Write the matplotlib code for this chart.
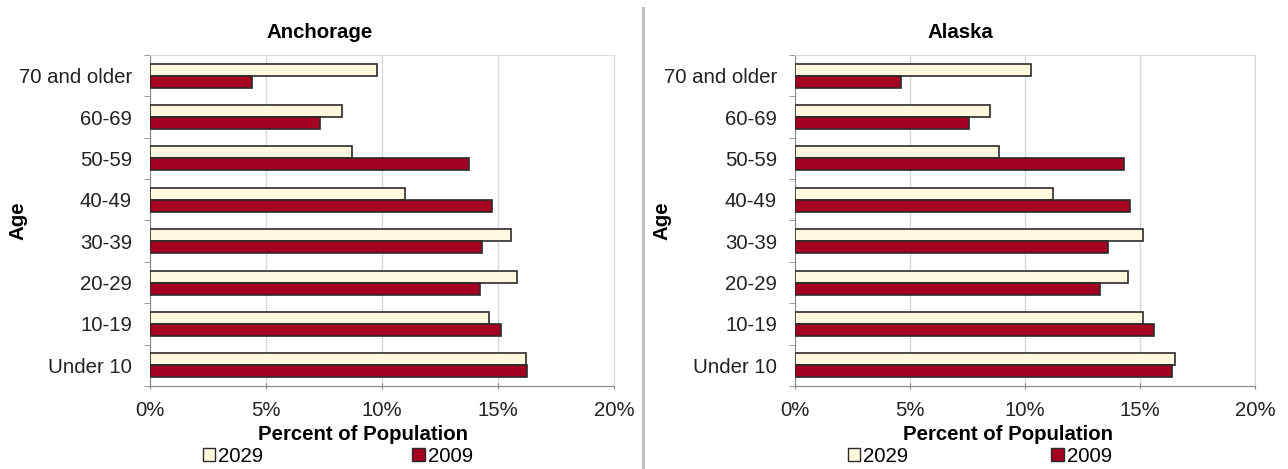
import numpy as np
import matplotlib
matplotlib.use('Agg')
import matplotlib.pyplot as plt
from matplotlib.lines import Line2D
from matplotlib.patches import Patch

plt.rcParams['font.family'] = ['Liberation Sans', 'DejaVu Sans']

# tranches d'age, du bas vers le haut
ages = ['Under 10', '10-19', '20-29', '30-39', '40-49', '50-59', '60-69', '70 and older']

anch_2029 = [16.19, 14.61, 15.84, 15.58, 11.0, 8.7, 8.26, 9.78]
anch_2009 = [16.23, 15.14, 14.23, 14.29, 14.72, 13.77, 7.32, 4.38]

ak_2029 = [16.52, 15.14, 14.47, 15.14, 11.23, 8.86, 8.49, 10.25]
ak_2009 = [16.4, 15.62, 13.26, 13.6, 14.57, 14.32, 7.58, 4.6]

x_ticks = [0, 5, 10, 15, 20]
x_labels = ['0%', '5%', '10%', '15%', '20%']

c_2029 = '#FFF7DE'
c_2009 = '#A50021'
c_edge = '#2b2b2b'

W, H = 1288, 469
fig = plt.figure(figsize=(W / 100, H / 100), dpi=100)

fs = 14.7


def panneau(ax, v2029, v2009, titre, tx, x0, larg, xl_x, age_x, leg_x, colsp):
    y = np.arange(len(ages))
    h = 0.29
    ax.barh(y + h / 2, v2029, height=h, color=c_2029, edgecolor=c_edge, linewidth=1.2, zorder=3)
    ax.barh(y - h / 2, v2009, height=h, color=c_2009, edgecolor=c_edge, linewidth=1.2, zorder=3)
    ax.set_xlim(0, 20)
    ax.set_ylim(-0.5, len(ages) - 0.5)
    ax.set_xticks(x_ticks)
    ax.set_xticklabels(x_labels, fontsize=fs, color='#222')
    ax.set_yticks(y)
    ax.set_yticklabels(ages, fontsize=fs, color='#222')
    ax.set_yticks(np.arange(-0.5, len(ages)), minor=True)
    ax.tick_params(axis='y', which='major', length=0, pad=13)
    ax.tick_params(axis='y', which='minor', length=4, color='#888', direction='out')
    ax.tick_params(axis='x', length=5, color='#888', direction='inout', pad=8)
    ax.grid(axis='x', color='#d9d9d9', linewidth=1, zorder=0)
    for s in ['top', 'right']:
        ax.spines[s].set_color('#d9d9d9')
    for s in ['left', 'bottom']:
        ax.spines[s].set_color('#888')
    ax.set_xlabel('Percent of Population', fontsize=fs, fontweight='bold')
    ax.xaxis.set_label_coords((xl_x - x0) / larg, (386 - 434) / 331)
    ax.xaxis.label.set_va('center')
    ax.set_ylabel('Age', fontsize=fs, fontweight='bold')
    ax.yaxis.set_label_coords((age_x - x0) / larg, 0.5)
    ax.yaxis.label.set_va('center')
    fig.text(tx / W, 1 - 32 / H, titre, fontsize=fs, fontweight='bold', ha='center', va='center')
    poignees = [Patch(facecolor=c_2029, edgecolor=c_edge, linewidth=1),
                Patch(facecolor=c_2009, edgecolor=c_edge, linewidth=1)]
    ax.legend(poignees, ['2029', '2009'], loc='center left',
              bbox_to_anchor=((leg_x - x0) / larg, (386 - 456) / 331), ncol=2,
              frameon=False, fontsize=fs, handlelength=0.6, handleheight=0.6,
              handletextpad=0.15, columnspacing=colsp, borderpad=0, borderaxespad=0)


ax1 = fig.add_axes([150 / W, 1 - 386 / H, 464 / W, 331 / H])
panneau(ax1, anch_2029, anch_2009, 'Anchorage', 320, 150, 464, 363, 18, 203, 7.3)

ax2 = fig.add_axes([795 / W, 1 - 386 / H, 460 / W, 331 / H])
panneau(ax2, ak_2029, ak_2009, 'Alaska', 960, 795, 460, 1008, 662, 848, 7.0)

# trait de separation
fig.add_artist(Line2D([643 / W, 643 / W], [0, 1 - 8 / H], color='#c0c0c0', linewidth=2.2))

fig.savefig('out.png', dpi=100)
